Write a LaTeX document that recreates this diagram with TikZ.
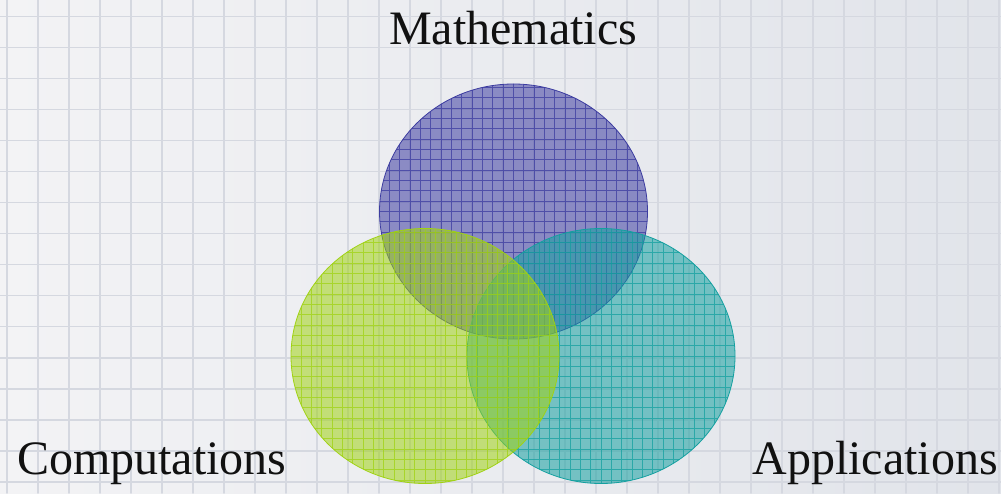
\documentclass[tikz,border=0pt]{standalone}
\usepackage{fontspec}
\setmainfont{Liberation Serif}
\usepackage{xcolor}
\usetikzlibrary{shapes.geometric}
\definecolor{paperleft}{HTML}{F3F3F5}
\definecolor{paperright}{HTML}{E1E4EA}
\definecolor{paperline}{HTML}{D5D8E0}
\definecolor{mathblue}{HTML}{3C3CA0}
\definecolor{compgreen}{HTML}{A0D214}
\definecolor{appteal}{HTML}{14A0A0}
\definecolor{ink}{HTML}{111111}
\tikzset{
    every picture/.style={line cap=round,line join=round},
    setdisc/.style={ellipse,minimum width=268pt,minimum height=255pt,inner sep=0pt,
      draw=#1,line width=0.8pt,fill=#1,fill opacity=0.55,
      path picture={\draw[#1,line width=0.7pt,opacity=0.75,step=10.333pt,
        xshift=6.7pt,yshift=1pt]
        (path picture bounding box.south west) grid (path picture bounding box.north east);}},
    setlabel/.style={font=\fontsize{48}{56}\selectfont,text=ink,inner sep=0pt}
}
\begin{document}
\begin{tikzpicture}[x=1pt,y=1pt]
  \useasboundingbox (0,0) rectangle (1001,493);
  % graph paper
  \shade[left color=paperleft,right color=paperright] (0,0) rectangle (1001,493);
  \foreach \k in {0,...,32} {
    \draw[paperline,line width=1.6pt] (6.7+31*\k,0) -- (6.7+31*\k,493);
  }
  \foreach \k in {0,...,15} {
    \draw[paperline,line width=1.6pt] (0,476.3-31*\k) -- (1001,476.3-31*\k);
  }
  % the three sets
  \node[setdisc=mathblue] (math) at (513.5,281.5) {};
  \node[setdisc=appteal] (app) at (601,137) {};
  \node[setdisc=compgreen] (comp) at (425,137) {};
  \node[setlabel,anchor=base] (mathlbl) at (513,448) {Mathematics};
  \node[setlabel,anchor=base west] (complbl) at (17,19) {Computations};
  \node[setlabel,anchor=base east] (applbl) at (998,19) {Applications};
\end{tikzpicture}
\end{document}
